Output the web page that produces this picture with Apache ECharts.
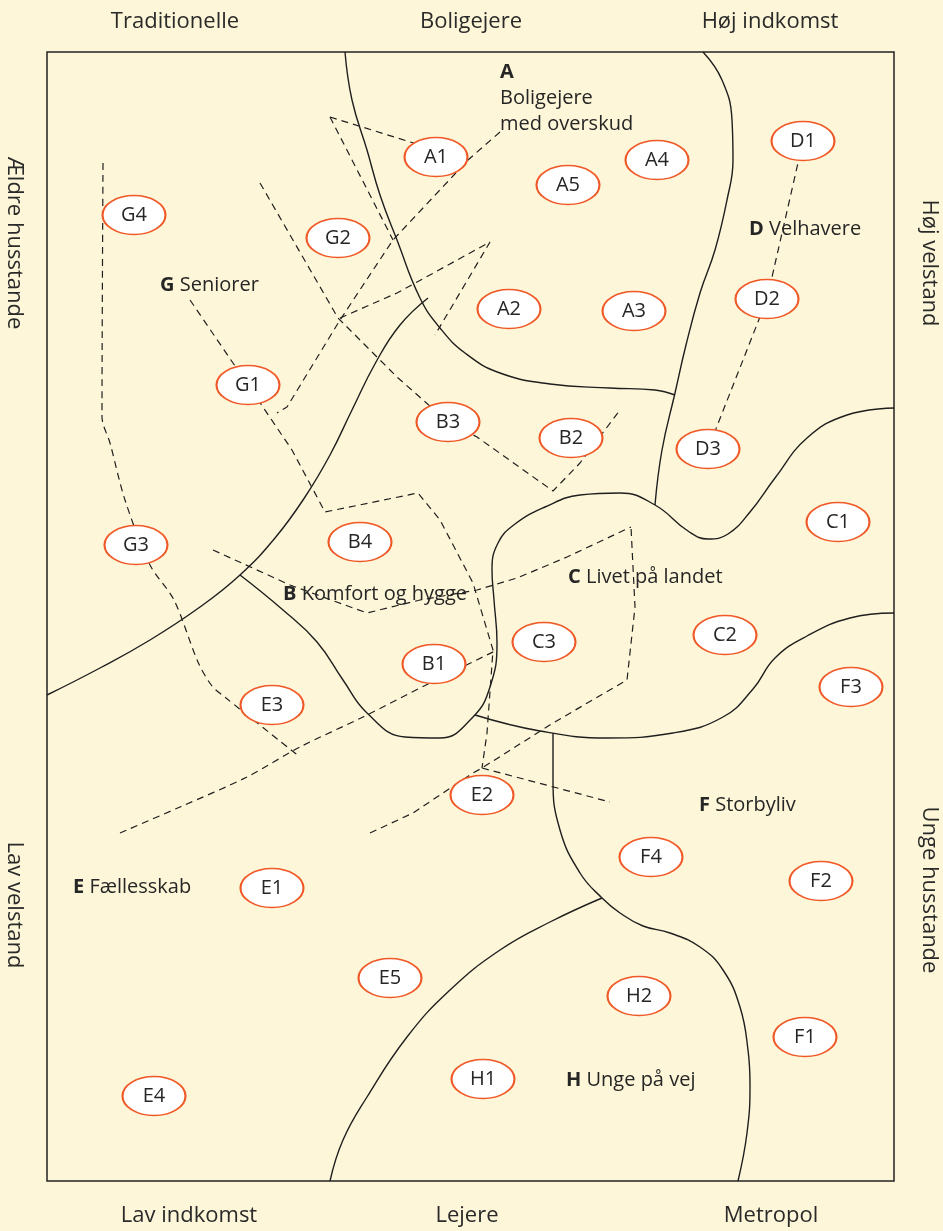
<!DOCTYPE html>
<html>
<head>
<meta charset="utf-8">
<title>Segmenter</title>
<script src="https://cdn.jsdelivr.net/npm/echarts@6/dist/echarts.min.js"></script>
<style>
  html, body { margin: 0; padding: 0; background: #fdf6d8; }
  #chart { width: 943px; height: 1231px; }
</style>
</head>
<body>
<div id="chart"></div>
<script>
// segmenter (ellipser) - position i kortets koordinater
const segNames = ['A1', 'A4', 'A5', 'A2', 'A3', 'D1', 'D2', 'D3', 'G4', 'G2', 'G1', 'B3', 'B2', 'B4', 'B1',
  'C1', 'C3', 'C2', 'F3', 'G3', 'E3', 'E2', 'F4', 'F2', 'E1', 'E5', 'H2', 'F1', 'H1', 'E4']
const segX = [436, 657, 568, 509, 634, 803, 767, 708, 134, 338, 248, 448, 571, 360, 434,
  838, 544, 725, 851, 136, 272, 482, 651, 821, 272, 390, 639, 805, 483, 154]
const segY = [157, 160, 185, 309, 311, 141, 299, 449, 215, 238, 385, 422, 438, 542, 664,
  522, 642, 635, 687, 545, 705, 795, 857, 881, 888, 978, 996, 1037, 1079, 1096]

// grupper (bogstav + navn)
const groupKeys = ['A', 'B', 'C', 'D', 'E', 'F', 'G', 'H']
const groupNames = ['Boligejere\nmed overskud', 'Komfort og hygge', 'Livet på landet', 'Velhavere',
  'Fællesskab', 'Storbyliv', 'Seniorer', 'Unge på vej']
const groupX = [500, 283, 568, 749, 73, 699, 160, 566]
const groupY = [98, 594, 577, 229, 887, 805, 285, 1080]

// akse-tekster
const topLabels = ['Traditionelle', 'Boligejere', 'Høj indkomst']
const bottomLabels = ['Lav indkomst', 'Lejere', 'Metropol']
const leftLabels = ['Ældre husstande', 'Lav velstand']
const rightLabels = ['Høj velstand', 'Unge husstande']

// faste grænser mellem grupperne
const boundA = [[345, 52], [352, 100], [367, 150], [380, 195], [397, 240], [420, 298], [440, 328], [465, 353], [500, 373], [550, 384], [610, 388], [655, 390], [675, 395]]
const boundD = [[703, 52], [722, 80], [732, 120], [733, 160], [727, 200], [715, 250], [700, 293], [686, 345], [675, 393], [662, 450], [655, 505]]
const boundG = [[47, 695], [100, 668], [150, 640], [200, 607], [240, 575], [275, 538], [305, 497], [330, 455], [352, 410], [376, 362], [400, 325], [428, 298]]
const boundB = [[240, 575], [283, 610], [317, 642], [343, 680], [367, 713], [405, 737], [440, 738], [473, 717], [490, 687], [497, 643], [494, 600], [492, 570],
  [498, 543], [515, 524], [545, 507], [580, 495], [620, 493], [655, 505], [688, 531], [708, 539], [728, 534], [750, 512], [775, 478], [807, 438], [847, 415], [894, 408]]
const boundE = [[475, 715], [540, 731], [607, 738], [673, 733], [723, 717], [753, 689], [775, 658], [807, 636], [850, 618], [894, 613]]
const boundF = [[553, 733], [553, 780], [560, 830], [580, 873], [602, 898], [620, 913], [643, 926], [670, 933], [700, 947], [723, 970], [740, 1007], [748, 1050], [750, 1085], [747, 1133], [738, 1181]]
const boundH = [[602, 898], [550, 922], [500, 950], [450, 990], [407, 1037], [367, 1097], [343, 1140], [330, 1181]]

// stiplede forbindelser
const dashG3 = [[103, 163], [102, 417], [110, 443], [125, 500], [150, 565], [174, 600], [198, 662], [212, 686], [226, 698], [300, 757]]
const dashG1 = [[190, 300], [248, 385], [292, 450], [325, 512], [418, 493], [440, 520], [473, 583], [493, 650], [487, 733], [482, 768]]
const dashE3 = [[120, 833], [180, 807], [247, 777], [300, 747], [363, 717], [430, 683], [497, 650]]
const dashE2 = [[370, 833], [413, 813], [473, 773], [482, 768], [553, 723], [627, 680], [635, 607], [631, 527]]
const dashB = [[213, 550], [290, 585], [367, 613], [420, 600], [477, 590], [517, 578], [567, 557], [631, 527]]
const dashF = [[482, 768], [610, 802]]
const dashA1 = [[330, 117], [420, 145]]
const dashA2 = [[330, 117], [393, 240]]
const dashA3 = [[500, 132], [468, 160], [393, 240], [340, 320], [287, 407], [277, 413]]
const dashG2 = [[260, 183], [338, 318], [397, 377], [448, 422], [477, 437], [553, 491], [580, 463], [620, 410]]
const dashA4 = [[340, 318], [397, 293], [490, 242], [435, 335]]
const dashD = [[803, 141], [767, 299], [708, 449]]

const solidLines = [boundA, boundD, boundG, boundB, boundE, boundF, boundH]
const dashedLines = [dashG3, dashG1, dashE3, dashE2, dashB, dashF, dashA1, dashA2, dashA3, dashG2, dashA4, dashD]
const curvedDashed = [dashG3, dashE3]

const textColor = '#262626'
const font = '"Open Sans", "Noto Sans", sans-serif'

const chart = echarts.init(document.getElementById('chart'))

const series = []
solidLines.forEach(pts => {
  series.push({
    type: 'line',
    data: pts,
    smooth: 0.45,
    symbol: 'none',
    silent: true,
    z: 2,
    lineStyle: { color: '#1f1f1f', width: 1.4 }
  })
})
dashedLines.forEach(pts => {
  series.push({
    type: 'line',
    data: pts,
    smooth: curvedDashed.includes(pts) ? 0.3 : false,
    symbol: 'none',
    silent: true,
    z: 1,
    lineStyle: { color: '#1f1f1f', width: 1.2, type: [7, 5] }
  })
})

// ellipserne
series.push({
  type: 'scatter',
  symbol: 'circle',
  symbolSize: [63, 39],
  z: 5,
  itemStyle: { color: '#ffffff', borderColor: '#f05a28', borderWidth: 1.7, opacity: 1 },
  label: {
    show: true,
    position: 'inside',
    formatter: '{b}',
    color: textColor,
    fontSize: 20,
    fontFamily: font
  },
  data: segNames.map((n, i) => ({ name: n, value: [segX[i], segY[i]] }))
})

// gruppe-navne
series.push({
  type: 'scatter',
  symbolSize: 0,
  z: 6,
  silent: true,
  itemStyle: { opacity: 1 },
  label: {
    show: true,
    position: 'right',
    distance: 0,
    color: textColor,
    fontSize: 20,
    fontFamily: font,
    lineHeight: 26,
    formatter: p => {
      const k = groupKeys[p.dataIndex]
      const n = groupNames[p.dataIndex]
      return '{k|' + k + '}' + (n.includes('\n') ? '\n' : ' ') + n
    },
    rich: {
      k: { fontWeight: 'bold', fontSize: 20, color: textColor, fontFamily: font, lineHeight: 26 }
    }
  },
  data: groupKeys.map((k, i) => ({ name: k, value: [groupX[i], groupY[i]] }))
})

const outerStyle = { fill: '#2a2a2a', fontSize: 22, fontFamily: font, align: 'center', verticalAlign: 'middle' }
const graphic = []
const topX = [175, 471, 770]
topLabels.forEach((t, i) => graphic.push({ type: 'text', x: topX[i], y: 22, style: Object.assign({ text: t }, outerStyle) }))
bottomLabels.forEach((t, i) => graphic.push({ type: 'text', x: [189, 467, 771][i], y: 1216, style: Object.assign({ text: t }, outerStyle) }))
leftLabels.forEach((t, i) => graphic.push({ type: 'text', x: 14, y: [243, 905][i], rotation: -Math.PI / 2, style: Object.assign({ text: t }, outerStyle) }))
rightLabels.forEach((t, i) => graphic.push({ type: 'text', x: 929, y: [263, 890][i], rotation: -Math.PI / 2, style: Object.assign({ text: t }, outerStyle) }))

chart.setOption({
  backgroundColor: '#fdf6d8',
  animation: false,
  grid: { left: 47, right: 49, top: 52, bottom: 50, show: true, borderColor: '#222', borderWidth: 1.5, backgroundColor: 'transparent' },
  xAxis: { type: 'value', min: 47, max: 894, show: false },
  yAxis: { type: 'value', min: 52, max: 1181, inverse: true, show: false },
  graphic: graphic,
  series: series
})
</script>
</body>
</html>
